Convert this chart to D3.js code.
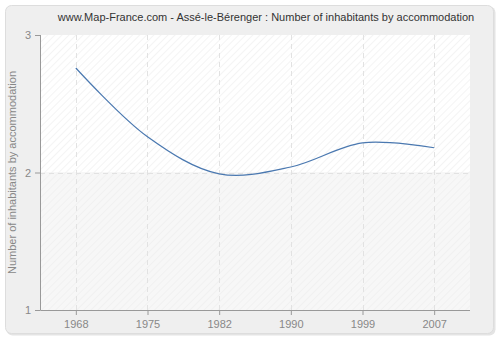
<!DOCTYPE html>
<html lang="en">
<head>
<meta charset="UTF-8">
<title>Assé-le-Bérenger : Number of inhabitants by accommodation</title>
<script src="https://cdnjs.cloudflare.com/ajax/libs/d3/7.8.5/d3.min.js"></script>
<style>
    body { margin: 0; background: #ffffff; }
    svg { display: block; font-family: "Liberation Sans", Arial, sans-serif; }
    .tick text { fill: #888888; font-size: 11px; }
    .axis path, .axis line { stroke: #999999; }
</style>
</head>
<body>
<div id="chart"></div>
<script>
    // data
    const years = ["1968", "1975", "1982", "1990", "1999", "2007"];
    const values = [2.76, 2.26, 1.99, 2.04, 2.215, 2.18];
    const yTicks = [1, 2, 3];

    const width = 500, height = 340;
    const margin = { top: 35, right: 30, bottom: 30, left: 40 };
    const plotW = width - margin.left - margin.right;
    const plotH = height - margin.top - margin.bottom;

    const svg = d3.select("#chart").append("svg")
        .attr("width", width)
        .attr("height", height);

    // hatch pattern for the plot background
    const defs = svg.append("defs");
    const pat = defs.append("pattern")
        .attr("id", "hatch")
        .attr("patternUnits", "userSpaceOnUse")
        .attr("width", 5).attr("height", 5)
        .attr("patternTransform", "rotate(45)");
    pat.append("line")
        .attr("x1", 0).attr("y1", 0).attr("x2", 0).attr("y2", 5)
        .attr("stroke", "#ececec").attr("stroke-width", 1.2);

    // outer panel
    svg.append("rect")
        .attr("x", 6.5).attr("y", 6.5)
        .attr("width", 489).attr("height", 329)
        .attr("rx", 6)
        .attr("fill", "#e4e4e4");
    svg.append("rect")
        .attr("x", 5.5).attr("y", 5.5)
        .attr("width", 488).attr("height", 328)
        .attr("rx", 6)
        .attr("fill", "#efefef")
        .attr("stroke", "#dddddd");

    const g = svg.append("g")
        .attr("transform", `translate(${margin.left},${margin.top})`);

    const x = d3.scalePoint()
        .domain(years)
        .range([0, plotW])
        .padding(0.5);

    const y = d3.scaleLinear()
        .domain([1, 3])
        .range([plotH, 0]);

    // plot background: white upper half, greyish lower half, both hatched
    g.append("rect")
        .attr("x", 0).attr("y", 0)
        .attr("width", plotW).attr("height", y(2))
        .attr("fill", "#ffffff");
    g.append("rect")
        .attr("x", 0).attr("y", y(2))
        .attr("width", plotW).attr("height", plotH - y(2))
        .attr("fill", "#f7f7f7");
    g.append("rect")
        .attr("width", plotW).attr("height", plotH)
        .attr("fill", "url(#hatch)");

    // grid
    g.selectAll(".vgrid")
        .data(years)
        .enter().append("line")
        .attr("class", "vgrid")
        .attr("x1", d => Math.round(x(d)) + 0.5)
        .attr("x2", d => Math.round(x(d)) + 0.5)
        .attr("y1", 0).attr("y2", plotH)
        .attr("stroke", "#e2e2e2")
        .attr("stroke-dasharray", "5,4");

    g.selectAll(".hgrid")
        .data([2])
        .enter().append("line")
        .attr("class", "hgrid")
        .attr("x1", 0).attr("x2", plotW)
        .attr("y1", d => Math.round(y(d)) + 0.5)
        .attr("y2", d => Math.round(y(d)) + 0.5)
        .attr("stroke", "#e2e2e2")
        .attr("stroke-dasharray", "5,4");

    // line
    const line = d3.line()
        .x((d, i) => x(years[i]))
        .y(d => y(d))
        .curve(d3.curveCatmullRom.alpha(0.5));

    g.append("path")
        .datum(values)
        .attr("fill", "none")
        .attr("stroke", "#4a78b0")
        .attr("stroke-width", 1.2)
        .attr("d", line);

    // axes
    g.append("g")
        .attr("class", "axis")
        .attr("transform", `translate(0,${plotH})`)
        .call(d3.axisBottom(x).tickSize(5).tickPadding(5).tickSizeOuter(0))
        .call(a => a.select(".domain").attr("d", `M0.5,0.5H${plotW}`));

    g.append("g")
        .attr("class", "axis")
        .call(d3.axisLeft(y).tickValues(yTicks).tickFormat(d3.format("d")).tickSize(5).tickPadding(4).tickSizeOuter(0))
        .call(a => a.select(".domain").attr("d", `M0.5,0V${plotH + 0.5}`));

    g.selectAll(".axis text").attr("fill", "#888888").style("font-size", "11px");

    // title
    svg.append("text")
        .attr("x", 266).attr("y", 21)
        .attr("text-anchor", "middle")
        .attr("fill", "#333333")
        .style("font-size", "11px")
        .text("www.Map-France.com - Assé-le-Bérenger : Number of inhabitants by accommodation");

    // y label
    svg.append("text")
        .attr("transform", `translate(16,${margin.top + plotH / 2}) rotate(-90)`)
        .attr("text-anchor", "middle")
        .attr("fill", "#888888")
        .style("font-size", "11px")
        .text("Number of inhabitants by accommodation");
</script>
</body>
</html>
